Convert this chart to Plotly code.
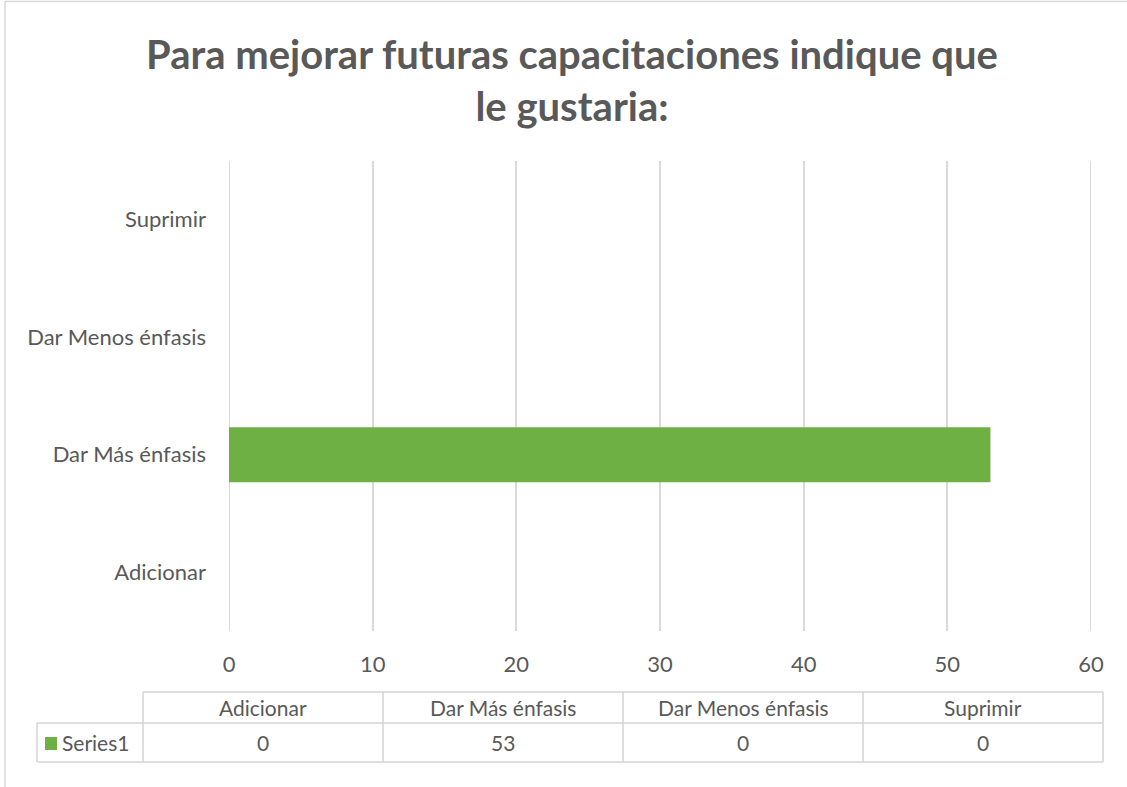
import plotly.graph_objects as go

categories = ["Adicionar", "Dar Más énfasis", "Dar Menos énfasis", "Suprimir"]
values = [0, 53, 0, 0]
series_name = "Series1"
x_ticks = [0, 10, 20, 30, 40, 50, 60]
title_text = "Para mejorar futuras capacitaciones indique que<br>le gustaria:"

W, H = 1127, 787
L, R, T, B = 229, 1091, 161, 631
FONT = "Lato"
GRAY = "#595959"
GREEN = "#6eb043"

def px(xp):
    return (xp - L) / (R - L)

def py(yp):
    return (B - yp) / (B - T)

fig = go.Figure()
fig.add_trace(go.Bar(
    y=categories, x=values, orientation="h", name=series_name,
    marker=dict(color=GREEN, line=dict(width=0)), width=0.47,
    showlegend=False,
))

shapes = []
annotations = []
# edge gridlines (0 and 60)
for xv in (x_ticks[0], x_ticks[-1]):
    shapes.append(dict(type="line", xref="x", yref="paper", x0=xv, x1=xv, y0=0, y1=1,
                       layer="below", line=dict(color="#d9d9d9", width=2)))
# outer chart border (top and left)
shapes.append(dict(type="line", xref="paper", yref="paper", x0=px(5), x1=px(1127), y0=py(1.5), y1=py(1.5),
                   line=dict(color="#d9d9d9", width=1.5)))
shapes.append(dict(type="line", xref="paper", yref="paper", x0=px(5), x1=px(5), y0=py(1.5), y1=py(787),
                   line=dict(color="#d9d9d9", width=1.5)))

# data table
col_edges = [143, 383, 623, 863, 1103]
row_top, row_mid, row_bot = 692, 723, 762
tbl_line = dict(color="#d4d4d4", width=1.5)
shapes.append(dict(type="line", xref="paper", yref="paper", x0=px(col_edges[0]), x1=px(col_edges[-1]),
                   y0=py(row_top), y1=py(row_top), line=tbl_line))
for yy in (row_mid, row_bot):
    shapes.append(dict(type="line", xref="paper", yref="paper", x0=px(37), x1=px(col_edges[-1]),
                       y0=py(yy), y1=py(yy), line=tbl_line))
for xx in col_edges:
    shapes.append(dict(type="line", xref="paper", yref="paper", x0=px(xx), x1=px(xx),
                       y0=py(row_top), y1=py(row_bot), line=tbl_line))
shapes.append(dict(type="line", xref="paper", yref="paper", x0=px(37), x1=px(37),
                   y0=py(row_mid), y1=py(row_bot), line=tbl_line))

for i, (cat, val) in enumerate(zip(categories, values)):
    cx = (col_edges[i] + col_edges[i + 1]) / 2
    annotations.append(dict(xref="paper", yref="paper", x=px(cx), y=py((row_top + row_mid) / 2),
                            text=cat, showarrow=False, xanchor="center", yanchor="middle",
                            font=dict(family=FONT, size=21, color=GRAY)))
    annotations.append(dict(xref="paper", yref="paper", x=px(cx), y=py((row_mid + row_bot) / 2),
                            text=str(val), showarrow=False, xanchor="center", yanchor="middle",
                            font=dict(family=FONT, size=21, color=GRAY)))
shapes.append(dict(type="rect", xref="paper", yref="paper", x0=px(45), x1=px(57),
                   y0=py(750), y1=py(737), fillcolor=GREEN, line=dict(width=0)))
annotations.append(dict(xref="paper", yref="paper", x=px(60), y=py((row_mid + row_bot) / 2),
                        text=series_name, showarrow=False, xanchor="left", yanchor="middle",
                        font=dict(family=FONT, size=21, color=GRAY)))

fig.update_layout(
    width=W, height=H,
    margin=dict(l=L, r=W - R, t=T, b=H - B, pad=0),
    paper_bgcolor="white", plot_bgcolor="white",
    title=dict(text="<b>" + title_text + "</b>", x=572 / W, xref="container", xanchor="center",
               y=1 - 69 / H, yref="container", yanchor="middle",
               font=dict(family=FONT, size=40, color=GRAY)),
    xaxis=dict(range=[0, 60], tickvals=x_ticks, showgrid=True, gridcolor="#d9d9d9", gridwidth=2,
               zeroline=False, showline=False, ticks="", ticklabelstandoff=18,
               tickfont=dict(family=FONT, size=22, color=GRAY), fixedrange=True),
    yaxis=dict(categoryorder="array", categoryarray=categories, showgrid=False, zeroline=False,
               showline=False, ticks="", ticklabelstandoff=22,
               tickfont=dict(family=FONT, size=22, color=GRAY)),
    shapes=shapes, annotations=annotations, bargap=0.53,
)

fig.write_html("out.html", config={"displayModeBar": False},
               post_script="document.body.style.margin='0';document.body.style.overflow='hidden';")
